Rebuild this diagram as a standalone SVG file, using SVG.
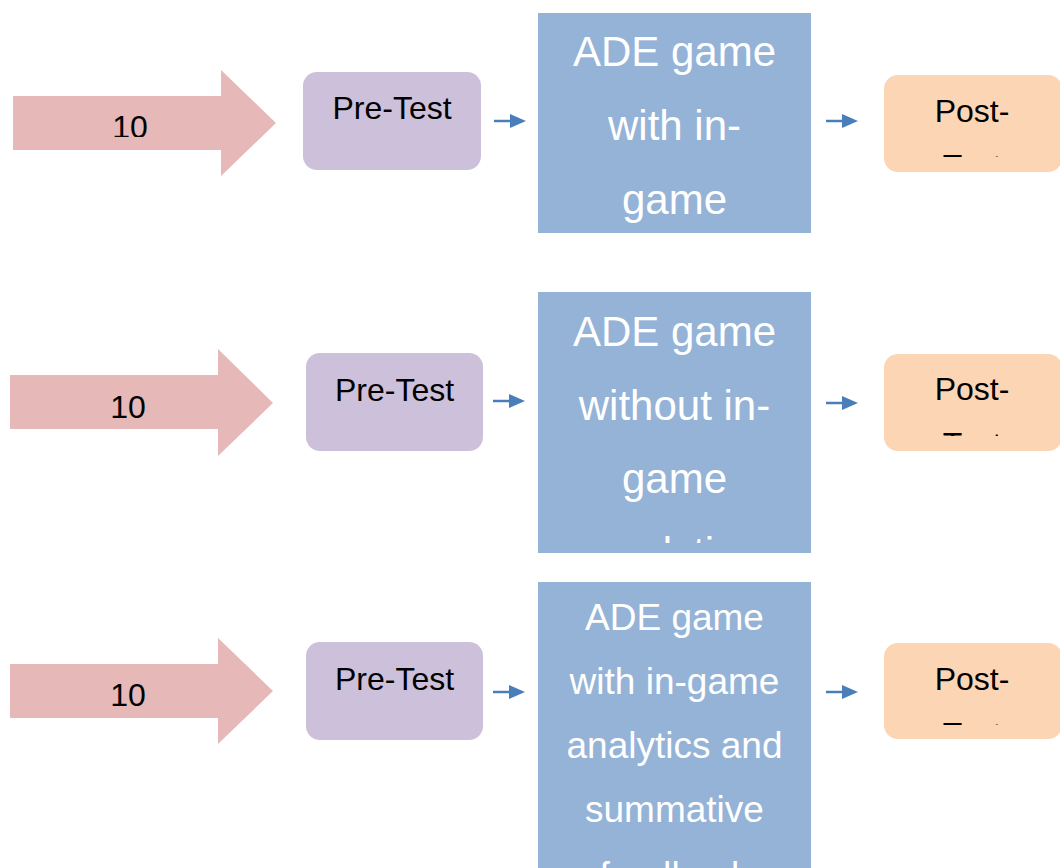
<svg xmlns="http://www.w3.org/2000/svg" width="1060" height="868" viewBox="0 0 1060 868">
  <style>
    .band { fill: #E6B8B7; }
    .pre { fill: #CCC0DA; }
    .game { fill: #95B3D7; }
    .post { fill: #FCD5B5; }
    .lbl { font-family: "Liberation Sans", Arial, sans-serif; font-size: 32px; fill: #000; text-anchor: middle; }
    .gtxt { font-family: "Liberation Sans", Arial, sans-serif; font-size: 42px; fill: #FFF; text-anchor: middle; }
    .gtxt-s { font-family: "Liberation Sans", Arial, sans-serif; font-size: 37px; fill: #FFF; text-anchor: middle; }
    .flow { stroke: #4A7EBB; stroke-width: 2.5; fill: none; marker-end: url(#head); }
  </style>
  <defs>
    <marker id="head" markerUnits="userSpaceOnUse" markerWidth="17" markerHeight="15" refX="0" refY="7" orient="auto">
      <path d="M0,0 L16,7 L0,14 Z" fill="#4A7EBB"/>
    </marker>
    <clipPath id="clip-band1"><rect x="0" y="60" width="300" height="77"/></clipPath>
    <clipPath id="clip-game2"><rect x="538" y="292" width="273" height="251"/></clipPath>
    <clipPath id="clip-post1"><rect x="884" y="75" width="176" height="82"/></clipPath>
    <clipPath id="clip-post2"><rect x="884" y="354" width="176" height="82"/></clipPath>
    <clipPath id="clip-post3"><rect x="884" y="643" width="176" height="82"/></clipPath>
  </defs>

  <!-- row 1 -->
  <g id="group1">
    <path class="band" d="M13,96 H221 V70 L276,123 L221,176 V150 H13 Z"/>
    <text class="lbl" x="130" y="138" clip-path="url(#clip-band1)">10</text>
  </g>
  <g id="pretest1">
    <rect class="pre" x="303" y="72" width="178" height="98" rx="14"/>
    <text class="lbl" x="392" y="119">Pre-Test</text>
  </g>
  <g id="game1">
    <rect class="game" x="538" y="13" width="273" height="220"/>
    <text class="gtxt" x="674.5" y="66">ADE game</text>
    <text class="gtxt" x="674.5" y="140">with in-</text>
    <text class="gtxt" x="674.5" y="214">game</text>
  </g>
  <g id="posttest1">
    <rect class="post" x="884" y="75" width="178" height="97" rx="14"/>
    <g clip-path="url(#clip-post1)">
      <text class="lbl" x="972" y="122">Post-</text>
      <text class="lbl" x="972" y="177">Test</text>
    </g>
  </g>

  <!-- row 2 -->
  <g id="group2">
    <path class="band" d="M10,375 H218 V349 L273,403 L218,456 V429 H10 Z"/>
    <text class="lbl" x="128" y="418">10</text>
  </g>
  <g id="pretest2">
    <rect class="pre" x="306" y="353" width="177" height="98" rx="14"/>
    <text class="lbl" x="394.5" y="401">Pre-Test</text>
  </g>
  <g id="game2">
    <rect class="game" x="538" y="292" width="273" height="261"/>
    <g clip-path="url(#clip-game2)">
      <text class="gtxt" x="674.5" y="346">ADE game</text>
      <text class="gtxt" x="674.5" y="420">without in-</text>
      <text class="gtxt" x="674.5" y="493">game</text>
      <text class="gtxt" x="674.5" y="567">analytics</text>
    </g>
  </g>
  <g id="posttest2">
    <rect class="post" x="884" y="354" width="178" height="97" rx="14"/>
    <g clip-path="url(#clip-post2)">
      <text class="lbl" x="972" y="400">Post-</text>
      <text class="lbl" x="972" y="455">Test</text>
    </g>
  </g>

  <!-- row 3 -->
  <g id="group3">
    <path class="band" d="M10,664 H218 V638 L273,691 L218,744 V718 H10 Z"/>
    <text class="lbl" x="128" y="706">10</text>
  </g>
  <g id="pretest3">
    <rect class="pre" x="306" y="642" width="177" height="98" rx="14"/>
    <text class="lbl" x="394.5" y="690">Pre-Test</text>
  </g>
  <g id="game3">
    <rect class="game" x="538" y="582" width="273" height="300"/>
    <text class="gtxt-s" x="674.5" y="630">ADE game</text>
    <text class="gtxt-s" x="674.5" y="694">with in-game</text>
    <text class="gtxt-s" x="674.5" y="758">analytics and</text>
    <text class="gtxt-s" x="674.5" y="822">summative</text>
    <text class="gtxt-s" x="674.5" y="888">feedback</text>
  </g>
  <g id="posttest3">
    <rect class="post" x="884" y="643" width="178" height="96" rx="14"/>
    <g clip-path="url(#clip-post3)">
      <text class="lbl" x="972" y="690">Post-</text>
      <text class="lbl" x="972" y="745">Test</text>
    </g>
  </g>

  <!-- connectors -->
  <g id="connectors">
    <line class="flow" x1="494" y1="121" x2="510" y2="121"/>
    <line class="flow" x1="826" y1="121" x2="842" y2="121"/>
    <line class="flow" x1="493" y1="401" x2="509" y2="401"/>
    <line class="flow" x1="826" y1="403" x2="842" y2="403"/>
    <line class="flow" x1="493" y1="692" x2="509" y2="692"/>
    <line class="flow" x1="826" y1="692" x2="842" y2="692"/>
  </g>
</svg>
